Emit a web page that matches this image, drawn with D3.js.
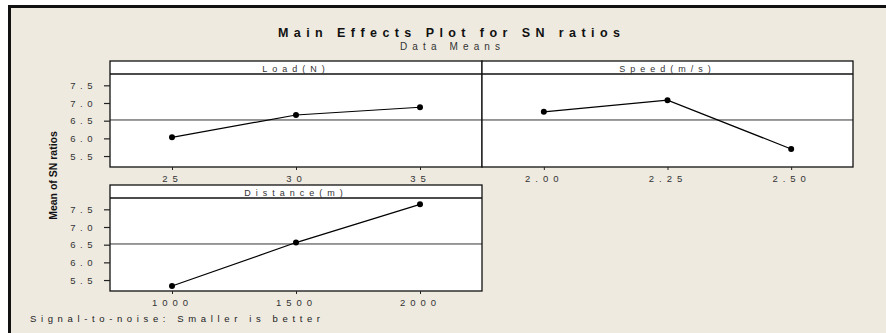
<!DOCTYPE html>
<html>
<head>
<meta charset="utf-8">
<script src="https://cdn.jsdelivr.net/npm/d3@7"></script>
<style>
  html, body { margin: 0; padding: 0; background: #ffffff; }
  svg { display: block; font-family: "Liberation Sans", Arial, sans-serif; }
</style>
</head>
<body>
<svg id="chart" width="886" height="333"></svg>
<script>
// ---- data ----
const chartTitle = "Main Effects Plot for SN ratios";
const chartSubtitle = "Data Means";
const yAxisTitle = "Mean of SN ratios";
const footerText = "Signal-to-noise: Smaller is better";
const factorNames = ["Load(N)", "Speed(m/s)", "Distance(m)"];

const loadLevels = [25, 30, 35];
const loadTickLabels = ["25", "30", "35"];
const loadSN = [6.03, 6.66, 6.88];

const speedLevels = [2.00, 2.25, 2.50];
const speedTickLabels = ["2.00", "2.25", "2.50"];
const speedSN = [6.75, 7.08, 5.70];

const distanceLevels = [1000, 1500, 2000];
const distanceTickLabels = ["1000", "1500", "2000"];
const distanceSN = [5.33, 6.56, 7.64];

const yTickValues = [5.5, 6.0, 6.5, 7.0, 7.5];
const yDomain = [5.19, 7.82];
const grandMean = 6.52;

// ---- layout ----
const svg = d3.select("#chart");
const beige = "#eeeae0";
const headerH = 13, plotH = 93;

svg.append("rect").attr("x", 0).attr("y", 0).attr("width", 886).attr("height", 333).attr("fill", "#ffffff");
svg.append("rect").attr("x", 8).attr("y", 5).attr("width", 878).attr("height", 328).attr("fill", beige);
svg.append("line").attr("x1", 8).attr("x2", 886).attr("y1", 6.5).attr("y2", 6.5).attr("stroke", "#111").attr("stroke-width", 3);
svg.append("line").attr("x1", 9.5).attr("x2", 9.5).attr("y1", 5).attr("y2", 333).attr("stroke", "#111").attr("stroke-width", 3);

// titles
svg.append("text").attr("x", 278).attr("y", 36.5)
  .attr("textLength", 342).attr("lengthAdjust", "spacing")
  .attr("font-size", 12.5).attr("font-weight", "bold").attr("fill", "#111")
  .text(chartTitle);
svg.append("text").attr("x", 400).attr("y", 50)
  .attr("textLength", 100).attr("lengthAdjust", "spacing")
  .attr("font-size", 10).attr("fill", "#333")
  .text(chartSubtitle);
svg.append("text").attr("x", 30).attr("y", 322)
  .attr("textLength", 290).attr("lengthAdjust", "spacing")
  .attr("font-size", 9.5).attr("fill", "#222")
  .text(footerText);
svg.append("text")
  .attr("transform", "translate(57,175.5) rotate(-90)")
  .attr("text-anchor", "middle")
  .attr("font-size", 10.5).attr("font-weight", "bold").attr("fill", "#111")
  .text(yAxisTitle);

const panels = [
  { name: factorNames[0], levels: loadLevels, values: loadSN, labels: loadTickLabels, x0: 110, x1: 482, y0: 61, yAxis: true },
  { name: factorNames[1], levels: speedLevels, values: speedSN, labels: speedTickLabels, x0: 482, x1: 853, y0: 61, yAxis: false },
  { name: factorNames[2], levels: distanceLevels, values: distanceSN, labels: distanceTickLabels, x0: 110, x1: 482, y0: 185, yAxis: true }
];

panels.forEach(p => {
  const step = p.levels[1] - p.levels[0];
  const x = d3.scaleLinear()
    .domain([p.levels[0] - step / 2, p.levels[p.levels.length - 1] + step / 2])
    .range([p.x0, p.x1]);
  const plotTop = p.y0 + headerH, plotBottom = plotTop + plotH;
  const y = d3.scaleLinear().domain(yDomain).range([plotBottom, plotTop]);
  const g = svg.append("g");

  // header strip + plot area
  g.append("rect").attr("x", p.x0).attr("y", p.y0).attr("width", p.x1 - p.x0).attr("height", headerH + plotH)
    .attr("fill", "#ffffff");

  // mean reference line
  g.append("line").attr("x1", p.x0).attr("x2", p.x1).attr("y1", y(grandMean)).attr("y2", y(grandMean))
    .attr("stroke", "#333").attr("stroke-width", 1);

  // data line and points
  const pts = p.levels.map((lv, i) => [x(lv), y(p.values[i])]);
  g.append("path").attr("d", d3.line()(pts)).attr("fill", "none").attr("stroke", "#000").attr("stroke-width", 1.2);
  g.selectAll("circle.pt").data(pts).join("circle").attr("class", "pt")
    .attr("cx", d => d[0]).attr("cy", d => d[1]).attr("r", 3).attr("fill", "#000");

  // frame
  g.append("rect").attr("x", p.x0).attr("y", p.y0).attr("width", p.x1 - p.x0).attr("height", headerH + plotH)
    .attr("fill", "none").attr("stroke", "#111").attr("stroke-width", 1.3);
  g.append("line").attr("x1", p.x0).attr("x2", p.x1).attr("y1", plotTop).attr("y2", plotTop)
    .attr("stroke", "#111").attr("stroke-width", 1.3);

  // header label
  g.append("text").attr("x", (p.x0 + p.x1) / 2).attr("y", p.y0 + headerH - 2.5)
    .attr("text-anchor", "middle").attr("font-size", 9).attr("fill", "#333")
    .style("letter-spacing", "5px")
    .text(p.name);

  // x axis
  const xAxis = d3.axisBottom(x).tickValues(p.levels).tickSize(3).tickPadding(5)
    .tickFormat((d, i) => p.labels[i]);
  const xa = g.append("g").attr("transform", `translate(0,${plotBottom})`).call(xAxis);
  xa.select(".domain").remove();
  xa.selectAll(".tick line").attr("stroke", "#222");
  xa.selectAll(".tick text").attr("font-size", 9.5).attr("fill", "#333")
    .attr("font-family", "Liberation Sans, Arial, sans-serif").style("letter-spacing", "5px");

  // y axis
  if (p.yAxis) {
    const yAxis = d3.axisLeft(y).tickValues(yTickValues).tickSize(6).tickPadding(7)
      .tickFormat(d3.format(".1f"));
    const ya = g.append("g").attr("transform", `translate(${p.x0},0)`).call(yAxis);
    ya.select(".domain").remove();
    ya.selectAll(".tick line").attr("stroke", "#222").attr("stroke-width", 1.2);
    ya.selectAll(".tick text").attr("font-size", 9.5).attr("fill", "#333")
      .attr("font-family", "Liberation Sans, Arial, sans-serif").style("letter-spacing", "4.5px");
  }
});
</script>
</body>
</html>
